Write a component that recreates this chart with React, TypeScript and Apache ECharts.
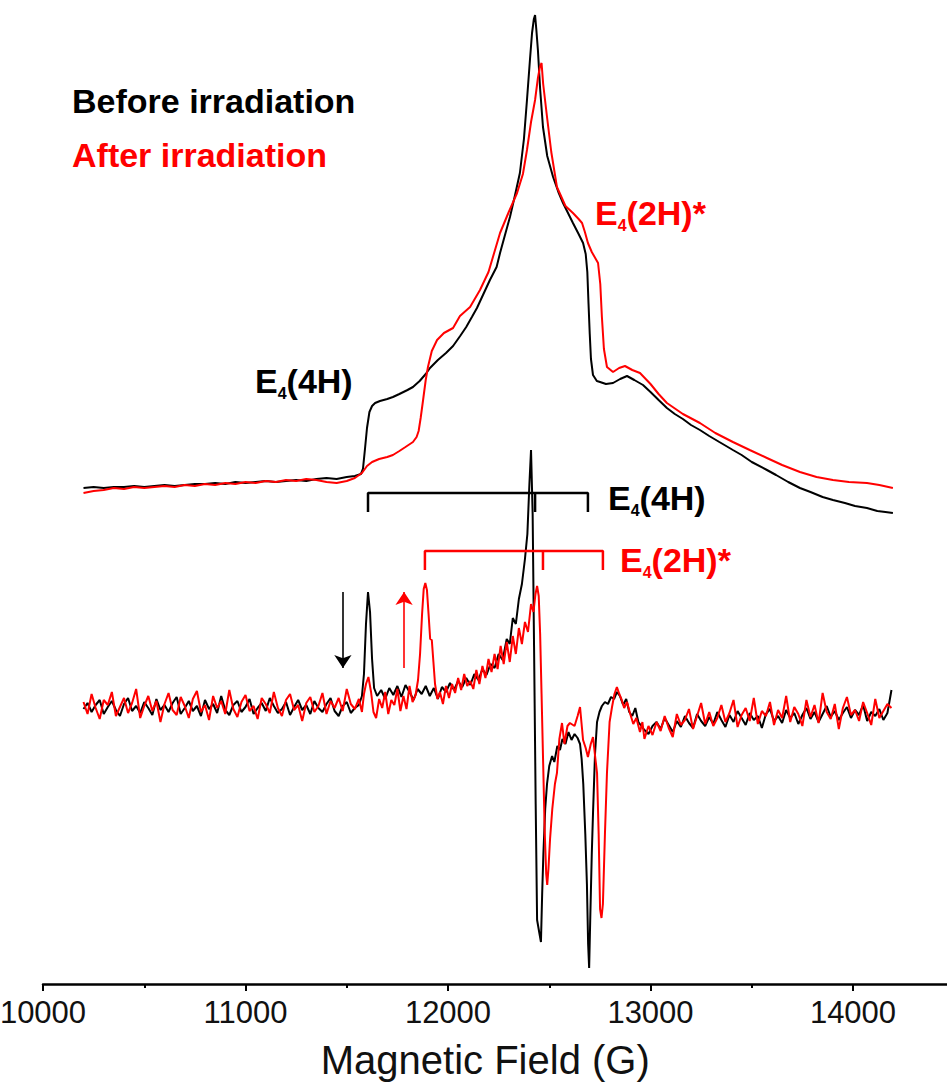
import React, { useEffect, useRef } from 'react';
import * as echarts from 'echarts';

const FONT = '"Liberation Sans", Arial, Helvetica, sans-serif';
const BLACK = '#000000';
const RED = '#ff0000';

// X axis
const fieldMin = 10000;
const fieldMax = 15000;
const fieldTickStep = 1000;
const lastLabelledField = 14000;
const axisTitle = 'Magnetic Field (G)';

// Absorption spectra (field G, intensity a.u.)
const beforeAbs: [number, number][] = [
  [10200, 496], [10250, 497], [10300, 496], [10350, 497], [10400, 497], [10450, 498], [10500, 497], [10550, 498],
  [10600, 499], [10650, 498], [10700, 499], [10750, 500], [10800, 500], [10850, 501], [10900, 500], [10950, 502],
  [11000, 501], [11050, 502], [11100, 503], [11150, 502], [11200, 503], [11250, 504], [11300, 503], [11350, 505],
  [11400, 506], [11450, 505], [11500, 507], [11540, 508], [11570, 510], [11580, 515], [11590, 535], [11600, 556],
  [11612, 572], [11625, 578], [11640, 581], [11664, 583], [11700, 585], [11728, 587], [11760, 590], [11800, 594],
  [11827, 597], [11860, 603], [11890, 610], [11911, 616], [11950, 624], [11990, 631], [12025, 638], [12060, 648],
  [12090, 657], [12118, 667], [12143, 676], [12175, 690], [12207, 704], [12240, 717], [12257, 731], [12280, 748],
  [12306, 767], [12330, 788], [12355, 811], [12375, 845], [12390, 884], [12405, 925], [12415, 951], [12424, 965],
  [12430, 969], [12436, 955], [12444, 934], [12455, 895], [12469, 857], [12490, 828], [12519, 807], [12545, 792],
  [12568, 781], [12595, 770], [12617, 761], [12645, 750], [12667, 741], [12680, 730], [12688, 712], [12694, 680],
  [12700, 650], [12706, 625], [12716, 609], [12735, 603], [12751, 602], [12780, 600], [12815, 601], [12850, 605],
  [12884, 608], [12920, 604], [12963, 599], [13000, 592], [13040, 584], [13081, 576], [13120, 570], [13160, 565],
  [13200, 559], [13244, 554], [13290, 548], [13340, 542], [13407, 534], [13450, 529], [13500, 522], [13575, 514],
  [13620, 509], [13680, 502], [13738, 496], [13790, 492], [13850, 487], [13901, 484], [13960, 481], [14010, 478],
  [14069, 476], [14120, 473], [14160, 472], [14197, 471],
];

const afterAbs: [number, number][] = [
  [10200, 491], [10250, 493], [10300, 494], [10350, 496], [10400, 495], [10450, 497], [10500, 496], [10550, 497],
  [10600, 498], [10650, 497], [10700, 499], [10750, 498], [10800, 500], [10850, 499], [10900, 501], [10950, 500],
  [11000, 502], [11050, 501], [11100, 503], [11150, 502], [11200, 504], [11250, 503], [11300, 505], [11350, 504],
  [11400, 502], [11450, 501], [11500, 503], [11540, 506], [11575, 511], [11600, 518], [11625, 522], [11660, 525],
  [11700, 527], [11728, 529], [11760, 533], [11790, 537], [11827, 542], [11845, 547], [11855, 553], [11865, 566],
  [11877, 584], [11890, 604], [11901, 617], [11920, 633], [11946, 644], [11980, 651], [12025, 656], [12059, 668],
  [12109, 677], [12158, 694], [12200, 712], [12257, 751], [12300, 772], [12341, 791], [12370, 810], [12390, 834],
  [12410, 862], [12430, 884], [12444, 906], [12454, 917], [12462, 921], [12470, 900], [12489, 867], [12510, 832],
  [12538, 797], [12580, 778], [12617, 771], [12645, 765], [12662, 761], [12676, 752], [12691, 741], [12710, 732],
  [12741, 721], [12752, 700], [12760, 667], [12770, 635], [12785, 617], [12815, 612], [12845, 616], [12874, 618],
  [12910, 614], [12948, 611], [13000, 600], [13040, 590], [13081, 581], [13160, 570], [13244, 561], [13320, 551],
  [13407, 542], [13490, 534], [13575, 526], [13650, 519], [13738, 512], [13820, 507], [13901, 504], [13980, 502],
  [14069, 501], [14130, 499], [14197, 496],
];

// Derivative spectra: uniformly sampled low/high field parts + resolved central part
const derivLowStart = 10200;
const derivHighStart = 12970;
const derivStep = 20;

const beforeDerivLow = [
  275, 281, 272, 279, 284, 270, 277, 283, 274, 268,
  280, 286, 273, 278, 271, 282, 276, 269, 285, 274,
  279, 272, 281, 287, 270, 276, 283, 273, 278, 268,
  284, 275, 280, 271, 288, 274, 269, 279, 283, 272,
  277, 285, 270, 276, 281, 273, 286, 278, 271, 275,
  282, 269, 277, 284, 274, 279, 270, 283, 276, 272,
  280, 286, 273, 268, 278, 282, 271, 276,
];

const afterDerivLow = [
  282, 270, 290, 276, 265, 284, 279, 292, 268, 277,
  286, 271, 281, 295, 266, 278, 288, 273, 283, 262,
  280, 291, 274, 269, 287, 278, 266, 285, 293, 272,
  279, 264, 288, 276, 283, 270, 294, 275, 267, 282,
  289, 273, 278, 265, 286, 280, 271, 292, 276, 268,
  284, 290, 274, 279, 263, 281, 287, 272, 278, 291,
  270, 283, 276, 286, 273, 295, 280, 275,
];

const beforeDerivMid: [number, number][] = [
  [11560, 279], [11575, 288], [11585, 310], [11595, 360], [11605, 392], [11615, 372], [11625, 325], [11635, 296],
  [11650, 288], [11670, 294], [11690, 285], [11710, 296], [11730, 289], [11750, 298], [11770, 287], [11790, 299],
  [11810, 292], [11830, 284], [11850, 295], [11870, 290], [11890, 298], [11910, 288], [11930, 296], [11950, 285],
  [11970, 297], [11990, 292], [12010, 301], [12030, 294], [12050, 303], [12070, 297], [12090, 306], [12110, 299],
  [12130, 310], [12150, 304], [12170, 315], [12190, 309], [12210, 320], [12230, 316], [12250, 330], [12270, 324],
  [12290, 345], [12305, 340], [12320, 366], [12335, 360], [12350, 385], [12365, 400], [12380, 425], [12392, 450],
  [12402, 500], [12410, 534], [12418, 470], [12425, 337], [12433, 180], [12440, 64], [12452, 50], [12459, 42],
  [12465, 90], [12471, 130], [12480, 175], [12489, 200], [12500, 218], [12514, 228], [12525, 222], [12540, 238],
  [12553, 234], [12565, 245], [12580, 240], [12595, 252], [12610, 244], [12625, 250], [12640, 246], [12652, 240],
  [12660, 225], [12668, 200], [12678, 150], [12686, 100], [12692, 40], [12697, 16], [12703, 70], [12710, 130],
  [12716, 170], [12726, 230], [12736, 262], [12748, 272], [12760, 278], [12775, 282], [12790, 280], [12805, 287],
  [12820, 285], [12834, 292], [12849, 288], [12865, 279], [12880, 285], [12895, 272], [12910, 268], [12925, 276],
  [12940, 262], [12955, 258],
];

const afterDerivMid: [number, number][] = [
  [11560, 285], [11575, 272], [11585, 290], [11595, 300], [11607, 307], [11620, 292], [11632, 272], [11645, 266],
  [11660, 285], [11675, 276], [11690, 292], [11705, 270], [11720, 284], [11735, 279], [11750, 295], [11765, 273],
  [11780, 288], [11795, 275], [11810, 298], [11825, 282], [11840, 289], [11852, 304], [11862, 330], [11872, 370],
  [11880, 395], [11888, 401], [11896, 394], [11904, 370], [11912, 345], [11920, 344], [11928, 322], [11936, 300],
  [11948, 285], [11960, 292], [11975, 280], [11990, 298], [12005, 286], [12020, 300], [12035, 291], [12050, 306],
  [12065, 294], [12080, 310], [12095, 298], [12110, 303], [12125, 295], [12140, 314], [12155, 300], [12170, 318],
  [12185, 306], [12200, 325], [12215, 312], [12230, 330], [12245, 315], [12260, 338], [12275, 320], [12290, 342],
  [12305, 322], [12320, 348], [12335, 330], [12350, 356], [12365, 340], [12380, 362], [12395, 352], [12410, 380],
  [12422, 372], [12432, 390], [12440, 398], [12448, 388], [12455, 350], [12462, 290], [12470, 220], [12478, 150],
  [12485, 110], [12490, 99], [12496, 115], [12504, 145], [12515, 175], [12528, 200], [12538, 211], [12550, 245],
  [12563, 261], [12575, 240], [12590, 258], [12602, 261], [12625, 258], [12640, 268], [12652, 277], [12667, 244],
  [12680, 236], [12691, 227], [12705, 240], [12716, 247], [12728, 225], [12736, 211], [12744, 150], [12751, 75],
  [12758, 66], [12765, 80], [12775, 150], [12785, 211], [12798, 262], [12810, 277], [12822, 290], [12834, 297],
  [12846, 290], [12858, 284], [12870, 276], [12884, 282], [12900, 270], [12915, 260], [12930, 266], [12948, 252],
  [12960, 262],
];

const beforeDerivHigh = [
  254, 250, 258, 262, 255, 266, 259, 252, 263, 257,
  268, 261, 256, 270, 263, 258, 267, 260, 272, 264,
  257, 269, 262, 273, 266, 259, 271, 264, 268, 256,
  270, 275, 263, 268, 261, 274, 266, 271, 260, 269,
  276, 265, 272, 262, 270, 278, 267, 273, 264, 271,
  277, 266, 274, 269, 279, 263, 272, 268, 275, 264,
  271, 294,
];

const afterDerivHigh = [
  245, 258, 249, 262, 253, 268, 256, 247, 270, 259,
  264, 275, 255, 268, 281, 260, 272, 258, 266, 279,
  262, 271, 284, 257, 269, 276, 263, 286, 260, 273,
  268, 282, 259, 274, 266, 288, 262, 277, 270, 258,
  284, 267, 279, 261, 291, 272, 265, 280, 255, 276,
  287, 269, 274, 263, 282, 271, 259, 285, 266, 273,
  280, 276,
];

// Brackets marking the E4 line positions (field G, level a.u.)
const bracket4HFields = [11605, 12430, 12691];
const bracket4HLevel = 491;
const bracket2HFields = [11886, 12469, 12765];
const bracket2HLevel = 433;
const bracketDrop = 19;

// Arrows: [field, fromLevel, toLevel]
const arrowBefore = [11481, 392, 316];
const arrowAfter = [11783, 316, 392];

function sampled(start: number, step: number, values: number[]): [number, number][] {
  return values.map((v, i) => [start + i * step, v]);
}

function bracketPath(fields: number[], level: number): [number, number][] {
  const [a, m, b] = fields;
  return [
    [a, level - bracketDrop], [a, level], [m, level], [m, level - bracketDrop], [m, level],
    [b, level], [b, level - bracketDrop],
  ];
}

const rich = (color: string) => ({
  m: { fontSize: 34, fontWeight: 'bold', fontFamily: FONT, fill: color, color, lineHeight: 40 },
  s: { fontSize: 16, fontWeight: 'bold', fontFamily: FONT, fill: color, color, lineHeight: 16, verticalAlign: 'bottom' },
});

function label(x: number, y: number, text: string, color: string) {
  return {
    type: 'text',
    x,
    y,
    silent: true,
    style: {
      text,
      rich: rich(color),
      fill: color,
      font: `bold 34px ${FONT}`,
      align: 'left',
      verticalAlign: 'middle',
      textAlign: 'left',
      textVerticalAlign: 'middle',
    },
  };
}

export default function App() {
  const ref = useRef<HTMLDivElement>(null);
  useEffect(() => {
    if (!ref.current) return;
    const chart = echarts.init(ref.current, null, { renderer: 'svg' });
    const lineSeries = (data: [number, number][], color: string, width: number, z: number) => ({
      type: 'line',
      data,
      showSymbol: false,
      symbol: 'none',
      silent: true,
      z,
      lineStyle: { color, width },
      itemStyle: { color },
    });
    const beforeDeriv = [
      ...sampled(derivLowStart, derivStep, beforeDerivLow),
      ...beforeDerivMid,
      ...sampled(derivHighStart, derivStep, beforeDerivHigh),
    ];
    const afterDeriv = [
      ...sampled(derivLowStart, derivStep, afterDerivLow),
      ...afterDerivMid,
      ...sampled(derivHighStart, derivStep, afterDerivHigh),
    ];
    const option = {
      animation: false,
      backgroundColor: '#ffffff',
      grid: { left: 43, top: 0, width: 1012.5, height: 984, containLabel: false, outerBoundsMode: 'none' },
      xAxis: {
        type: 'value',
        min: fieldMin,
        max: fieldMax,
        interval: fieldTickStep,
        axisLine: { show: true, lineStyle: { color: BLACK, width: 2.5 } },
        axisTick: { show: true, inside: false, length: 7, lineStyle: { color: BLACK, width: 2 } },
        minorTick: { show: true, splitNumber: 2, length: 4, lineStyle: { color: BLACK, width: 2 } },
        splitLine: { show: false },
        minorSplitLine: { show: false },
        axisLabel: {
          fontSize: 31,
          fontFamily: FONT,
          color: '#111',
          margin: 13,
          showMaxLabel: false,
          formatter: (v: number) => (v > lastLabelledField ? '' : String(v)),
        },
        name: axisTitle,
        nameLocation: 'middle',
        nameGap: 55,
        nameTextStyle: { fontSize: 40, lineHeight: 42, fontFamily: FONT, color: '#111', padding: [0, 128, 0, 0] },
      },
      yAxis: { type: 'value', min: 0, max: 984, show: false },
      series: [
        lineSeries(beforeAbs, BLACK, 2, 2),
        lineSeries(afterAbs, RED, 2, 3),
        lineSeries(beforeDeriv, BLACK, 2, 2),
        lineSeries(afterDeriv, RED, 2, 3),
        {
          ...lineSeries(bracketPath(bracket4HFields, bracket4HLevel), BLACK, 2.5, 4),
          markLine: {
            silent: true,
            animation: false,
            symbol: ['none', 'arrow'],
            symbolSize: 13,
            label: { show: false },
            lineStyle: { type: 'solid', width: 1.6 },
            data: [
              [
                { coord: [arrowBefore[0], arrowBefore[1]], lineStyle: { color: BLACK, type: 'solid', width: 1.6 } },
                { coord: [arrowBefore[0], arrowBefore[2]] },
              ],
              [
                { coord: [arrowAfter[0], arrowAfter[1]], lineStyle: { color: RED, type: 'solid', width: 1.6 } },
                { coord: [arrowAfter[0], arrowAfter[2]] },
              ],
            ],
          },
        },
        lineSeries(bracketPath(bracket2HFields, bracket2HLevel), RED, 2.5, 4),
      ],
      graphic: [
        {
          type: 'text', x: 72, y: 101, silent: true,
          style: { text: 'Before irradiation', fill: BLACK, font: `bold 34px ${FONT}`, align: 'left', verticalAlign: 'middle', textAlign: 'left', textVerticalAlign: 'middle' },
        },
        {
          type: 'text', x: 72, y: 155, silent: true,
          style: { text: 'After irradiation', fill: RED, font: `bold 34px ${FONT}`, align: 'left', verticalAlign: 'middle', textAlign: 'left', textVerticalAlign: 'middle' },
        },
        label(255, 381, '{m|E}{s|4}{m|(4H)}', BLACK),
        label(595, 213, '{m|E}{s|4}{m|(2H)*}', RED),
        label(608, 498, '{m|E}{s|4}{m|(4H)}', BLACK),
        label(620, 560, '{m|E}{s|4}{m|(2H)*}', RED),
      ],
    };
    chart.setOption(option as any);
    return () => chart.dispose();
  }, []);
  return (
    <div
      ref={ref}
      style={{ position: 'fixed', left: 0, top: 0, width: 947, height: 1085, background: '#fff' }}
    />
  );
}
